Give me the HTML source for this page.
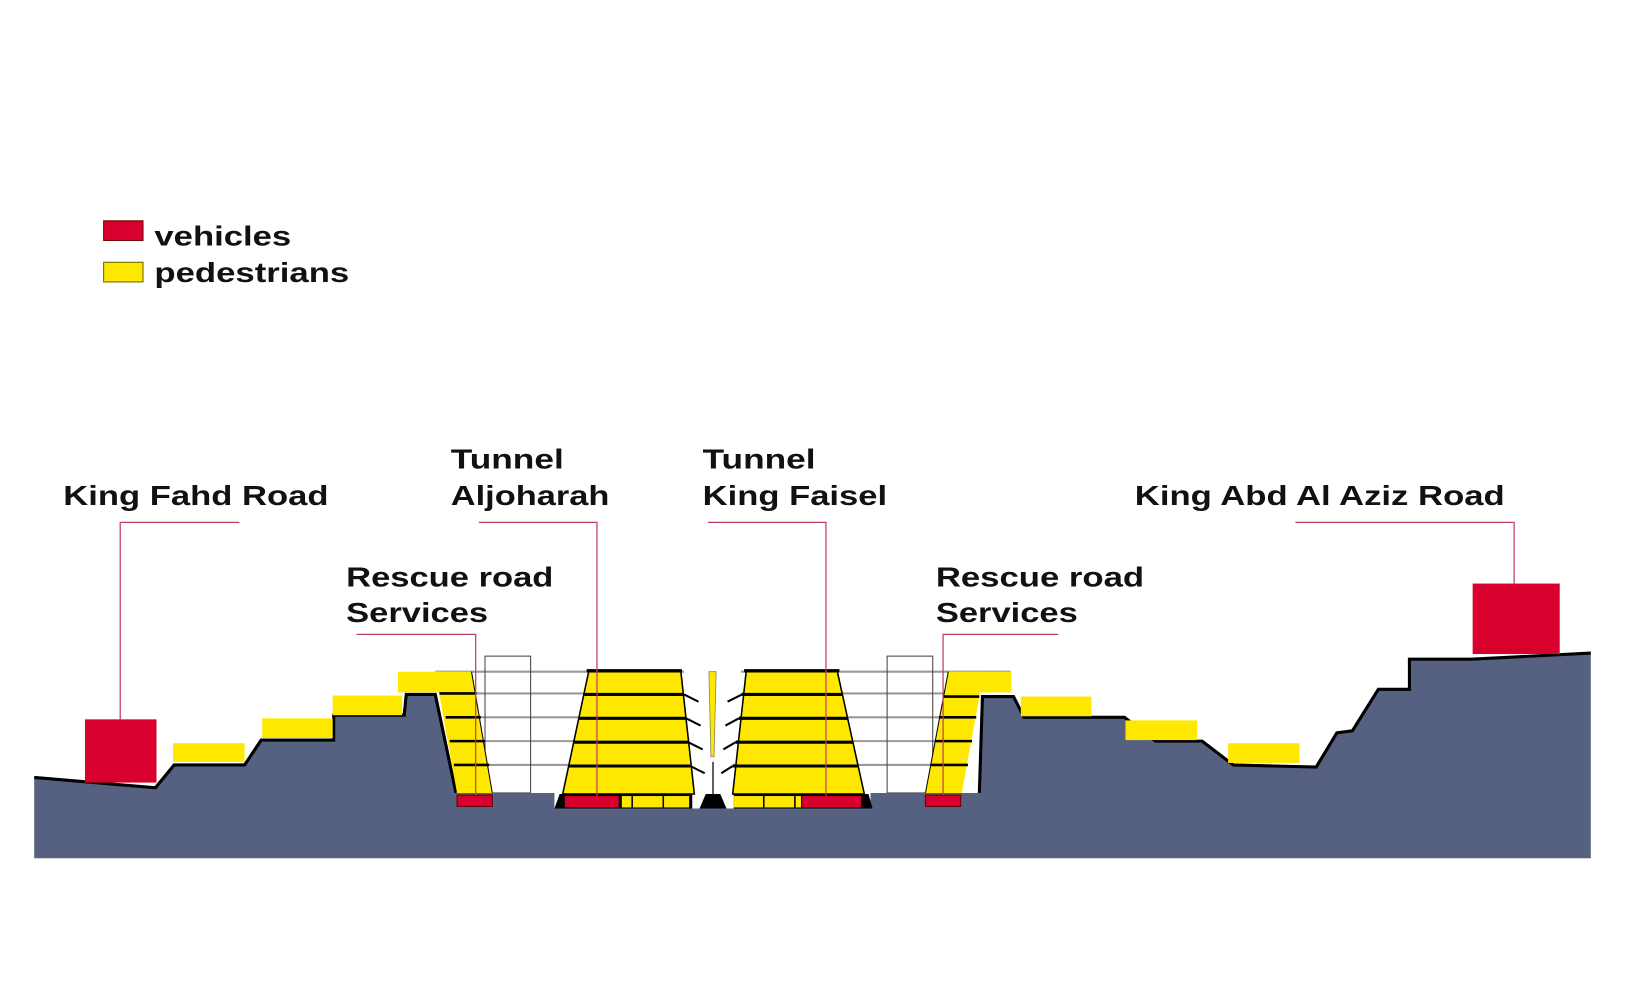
<!DOCTYPE html>
<html><head><meta charset="utf-8"><style>
html,body{margin:0;padding:0;background:#fff;}
svg{display:block;}
text{font-family:"Liberation Sans",Arial,sans-serif;font-weight:bold;fill:#111;}
</style></head><body>
<svg width="1625" height="993" viewBox="0 0 1568 958" preserveAspectRatio="none" xmlns="http://www.w3.org/2000/svg">
<rect width="1568" height="958" fill="#fff"/>
<!-- legend -->
<rect x="100" y="213" width="38" height="19" fill="#d8002c" stroke="#700" stroke-width="1"/>
<rect x="100" y="253" width="38" height="19" fill="#ffe800" stroke="#660" stroke-width="1"/>
<text x="149" y="237" font-size="27" textLength="132" lengthAdjust="spacingAndGlyphs">vehicles</text>
<text x="149" y="272" font-size="27" textLength="188" lengthAdjust="spacingAndGlyphs">pedestrians</text>

<!-- tunnel scaffolding lines (grey) -->
<g stroke="#999" stroke-width="2">
<line x1="420" y1="648" x2="660" y2="648"/><line x1="715" y1="648" x2="975" y2="648"/>
<line x1="430" y1="669" x2="660" y2="669"/><line x1="715" y1="669" x2="945" y2="669"/>
<line x1="435" y1="692" x2="662" y2="692"/><line x1="713" y1="692" x2="940" y2="692"/>
<line x1="440" y1="715" x2="664" y2="715"/><line x1="710" y1="715" x2="935" y2="715"/>
<line x1="445" y1="738" x2="666" y2="738"/><line x1="707" y1="738" x2="930" y2="738"/>
</g>
<g fill="none" stroke="#444" stroke-width="1">
<rect x="468" y="633" width="44" height="132"/>
<rect x="856" y="633" width="44" height="132"/>
</g>

<!-- ground -->
<path d="M33,750 L80,754 L150,760 L168,738 L236,738 L252,714 L322,714 L322,690 L390,690 L392,670 L420,670 L440,765 L535,765 L535,780 L840,780 L840,765 L945,765 L948,672 L978,672 L988,692 L1085,692 L1115,715 L1160,715 L1190,738 L1270,740 L1290,707 L1305,705 L1330,665 L1360,665 L1360,636 L1420,636 L1535,630 L1535,828 L33,828 Z" fill="#566080"/>
<path d="M33,750 L80,754 L150,760 L168,738 L236,738 L252,714 L322,714 L322,690 L390,690 L392,670 L420,670 L440,765 M945,765 L948,672 L978,672 L988,692 L1085,692 L1115,715 L1160,715 L1190,738 L1270,740 L1290,707 L1305,705 L1330,665 L1360,665 L1360,636 L1420,636 L1535,630" fill="none" stroke="#000" stroke-width="3"/>

<!-- yellow step blocks -->
<g fill="#ffe800">
<rect x="167" y="717" width="69" height="18"/>
<rect x="253" y="693" width="68" height="19"/>
<rect x="321" y="671" width="67" height="19"/>
<rect x="384" y="648" width="40" height="20"/>
<rect x="944" y="648" width="32" height="20"/>
<rect x="985" y="672" width="68" height="19"/>
<rect x="1086" y="695" width="69" height="19"/>
<rect x="1185" y="717" width="69" height="19"/>
</g>
<!-- red road blocks -->
<rect x="82" y="694" width="69" height="61" fill="#d8002c"/>
<rect x="1421" y="563" width="84" height="68" fill="#d8002c"/>

<!-- left rescue trapezoid -->
<path d="M420,648 L455,648 L475,765 L441,765 Z" fill="#ffe800"/>
<g stroke="#000" stroke-width="2.5"><line x1="424" y1="669" x2="460" y2="669"/><line x1="430" y1="692" x2="464" y2="692"/><line x1="434" y1="715" x2="468" y2="715"/><line x1="438" y1="738" x2="472" y2="738"/></g>
<line x1="455" y1="648" x2="475" y2="765" stroke="#000" stroke-width="1"/>
<rect x="441" y="767" width="34" height="11" fill="#d8002c" stroke="#600"/>
<!-- right rescue trapezoid -->
<path d="M915,648 L945,648 L945,672 L928,765 L893,765 Z" fill="#ffe800"/>
<g stroke="#000" stroke-width="2.5"><line x1="910" y1="672" x2="945" y2="672"/><line x1="906" y1="692" x2="942" y2="692"/><line x1="902" y1="715" x2="938" y2="715"/><line x1="898" y1="738" x2="934" y2="738"/></g>
<line x1="915" y1="648" x2="893" y2="765" stroke="#000" stroke-width="1"/>
<rect x="893" y="767" width="34" height="11" fill="#d8002c" stroke="#600"/>

<!-- tunnel base -->
<path d="M540,766 L838,766 L842,780 L535,780 Z" fill="#000"/>
<rect x="668" y="766" width="40" height="14" fill="#fff"/>
<rect x="545" y="768" width="52" height="11" fill="#d8002c"/>
<rect x="600" y="768" width="65" height="11" fill="#ffe800"/>
<rect x="708" y="768" width="65" height="11" fill="#ffe800"/>
<rect x="774" y="768" width="57" height="11" fill="#d8002c"/>
<g stroke="#000" stroke-width="1.5"><line x1="610" y1="768" x2="610" y2="779"/><line x1="640" y1="768" x2="640" y2="779"/><line x1="737" y1="768" x2="737" y2="779"/><line x1="767" y1="768" x2="767" y2="779"/></g>
<path d="M681,766 L695,766 L701,780 L675,780 Z" fill="#000"/>

<!-- left tunnel -->
<path d="M568,648 L657,648 L670,766 L543,766 Z" fill="#ffe800" stroke="#000" stroke-width="1.5"/>
<line x1="566" y1="647" x2="658" y2="647" stroke="#000" stroke-width="3"/>
<g stroke="#000" stroke-width="3"><line x1="564" y1="670" x2="660" y2="670"/><line x1="559" y1="693" x2="662" y2="693"/><line x1="554" y1="716" x2="664" y2="716"/><line x1="549" y1="739" x2="666" y2="739"/></g>
<g stroke="#000" stroke-width="2"><line x1="660" y1="670" x2="674" y2="677"/><line x1="662" y1="693" x2="676" y2="700"/><line x1="664" y1="716" x2="678" y2="723"/><line x1="666" y1="739" x2="680" y2="746"/></g>
<!-- right tunnel -->
<path d="M720,648 L808,648 L834,766 L707,766 Z" fill="#ffe800" stroke="#000" stroke-width="1.5"/>
<line x1="718" y1="647" x2="810" y2="647" stroke="#000" stroke-width="3"/>
<g stroke="#000" stroke-width="3"><line x1="716" y1="670" x2="813" y2="670"/><line x1="713" y1="693" x2="818" y2="693"/><line x1="710" y1="716" x2="823" y2="716"/><line x1="707" y1="739" x2="828" y2="739"/></g>
<g stroke="#000" stroke-width="2"><line x1="716" y1="670" x2="702" y2="677"/><line x1="713" y1="693" x2="700" y2="700"/><line x1="710" y1="716" x2="698" y2="723"/><line x1="707" y1="739" x2="696" y2="746"/></g>
<!-- central pylon -->
<path d="M684,648 L691,648 L689,730 L686,730 Z" fill="#ffe800" stroke="#886" stroke-width="0.8"/>
<line x1="688" y1="735" x2="688" y2="766" stroke="#333" stroke-width="1.5"/>

<!-- leader lines -->
<g stroke="#c0405a" stroke-width="1.2" fill="none">
<polyline points="231,504 116,504 116,694"/>
<polyline points="344,612 459,612 459,767"/>
<polyline points="462,504 576,504 576,768"/>
<polyline points="683,504 797,504 797,768"/>
<polyline points="1021,612 910,612 910,767"/>
<polyline points="1250,504 1461,504 1461,563"/>
</g>

<!-- labels -->
<g font-size="27">
<text x="61" y="487" textLength="256" lengthAdjust="spacingAndGlyphs">King Fahd Road</text>
<text x="435" y="452" textLength="109" lengthAdjust="spacingAndGlyphs">Tunnel</text>
<text x="435" y="487" textLength="153" lengthAdjust="spacingAndGlyphs">Aljoharah</text>
<text x="678" y="452" textLength="109" lengthAdjust="spacingAndGlyphs">Tunnel</text>
<text x="678" y="487" textLength="178" lengthAdjust="spacingAndGlyphs">King Faisel</text>
<text x="334" y="566" textLength="200" lengthAdjust="spacingAndGlyphs">Rescue road</text>
<text x="334" y="600" textLength="137" lengthAdjust="spacingAndGlyphs">Services</text>
<text x="903" y="566" textLength="201" lengthAdjust="spacingAndGlyphs">Rescue road</text>
<text x="903" y="600" textLength="137" lengthAdjust="spacingAndGlyphs">Services</text>
<text x="1095" y="487" textLength="357" lengthAdjust="spacingAndGlyphs">King Abd Al Aziz Road</text>
</g>
</svg>
</body></html>
